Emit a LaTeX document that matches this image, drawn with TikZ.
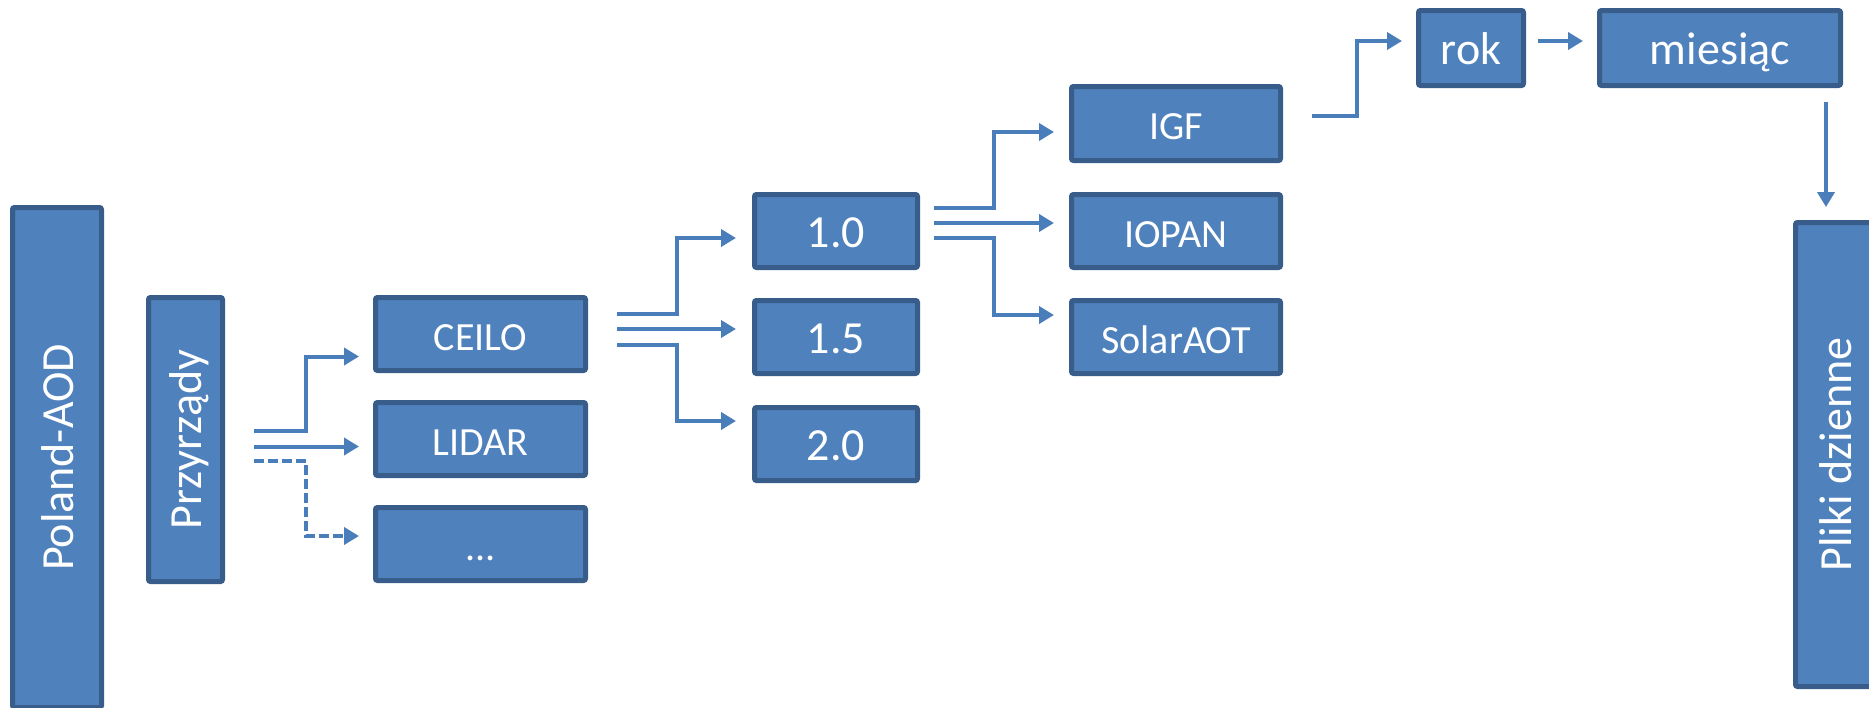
\documentclass[tikz,border=0pt]{standalone}
\usepackage{fontspec}
\setmainfont{Carlito}
\usetikzlibrary{arrows.meta,calc}
\definecolor{boxfill}{HTML}{4F81BD}
\definecolor{boxline}{HTML}{385D8A}
\definecolor{arrcol}{HTML}{4A7EBB}
\tikzset{
  box/.style={draw=boxline, fill=boxfill, line width=5pt, rounded corners=2pt,
    text=white, inner sep=0pt, text height=32pt, text depth=0pt},
  smallfont/.style={font=\fontsize{40}{48}\selectfont},
  bigfont/.style={font=\fontsize{46}{55}\selectfont},
  arr/.style={draw=arrcol, line width=4pt, -{Triangle[length=15pt,width=17pt]}},
  dashline/.style={dash pattern=on 10pt off 4pt}
}
\begin{document}
\begin{tikzpicture}[x=1pt,y=-1pt]
\useasboundingbox (0,0) rectangle (1869,707);
% nodes
\node[box,bigfont,rotate=90,minimum width=500pt,minimum height=89pt] (poland) at (57,457.5) {Poland-AOD};
\node[box,bigfont,rotate=90,minimum width=284pt,minimum height=74pt] (przyrzady) at (185.5,439.5) {Przyrządy};
\node[box,smallfont,minimum width=210pt,minimum height=73pt] (ceilo) at (480.5,334) {CEILO};
\node[box,smallfont,minimum width=210pt,minimum height=73pt] (lidar) at (480.5,439) {LIDAR};
\node[box,smallfont,minimum width=210pt,minimum height=73pt] (dots) at (480.5,544) {...};
\node[box,bigfont,minimum width=163pt,minimum height=73pt] (v10) at (836,231) {1.0};
\node[box,bigfont,minimum width=163pt,minimum height=73pt] (v15) at (836,337) {1.5};
\node[box,bigfont,minimum width=163pt,minimum height=73pt] (v20) at (836,444) {2.0};
\node[box,smallfont,minimum width=209pt,minimum height=74pt] (igf) at (1176,123.5) {IGF};
\node[box,smallfont,minimum width=209pt,minimum height=73pt] (iopan) at (1176,231) {IOPAN};
\node[box,smallfont,minimum width=209pt,minimum height=73pt] (solar) at (1176,337) {SolarAOT};
\node[box,bigfont,minimum width=105pt,minimum height=75pt] (rok) at (1471,48) {rok};
\node[box,bigfont,minimum width=241pt,minimum height=75pt] (miesiac) at (1720,48) {miesiąc};
\node[box,bigfont,rotate=90,minimum width=464pt,minimum height=79pt] (pliki) at (1835,454.5) {Pliki dzienne};
% free ends of connectors
\coordinate (a1) at (254,431);
\coordinate (a2) at (254,446.5);
\coordinate (a3) at (254,461);
\coordinate (b1) at (617,314);
\coordinate (b2) at (617,329);
\coordinate (b3) at (617,345);
\coordinate (c1) at (934,207.5);
\coordinate (c2) at (934,223);
\coordinate (c3) at (934,238);
\coordinate (d1) at (1312,116);
% group A
\draw[arr] (a1) -| ($(ceilo.west)+(-67,22.5)$) -- ($(ceilo.west)+(-14,22.5)$);
\draw[arr] (a2) -- ($(lidar.west)+(-14,7.5)$);
\draw[arr,dashline] (a3) -| ($(dots.west)+(-67,-8)$) -- ($(dots.west)+(-14,-8)$);
% group B
\draw[arr] (b1) -| ($(v10.west)+(-75,7)$) -- ($(v10.west)+(-16,7)$);
\draw[arr] (b2) -- ($(v15.west)+(-16,-8)$);
\draw[arr] (b3) -| ($(v20.west)+(-75,-23)$) -- ($(v20.west)+(-16,-23)$);
% group C
\draw[arr] (c1) -| ($(igf.west)+(-75,8.5)$) -- ($(igf.west)+(-15,8.5)$);
\draw[arr] (c2) -- ($(iopan.west)+(-15,-8)$);
\draw[arr] (c3) -| ($(solar.west)+(-75,-22)$) -- ($(solar.west)+(-15,-22)$);
% group D
\draw[arr] (d1) -| ($(rok.west)+(-59,-7)$) -- ($(rok.west)+(-14,-7)$);
\draw[arr] ($(rok.east)+(12,-7)$) -- ($(miesiac.west)+(-14,-7)$);
\draw[arr] ($(miesiac.south east)+(-17,14)$) -- ($(pliki.east)+(-9,-13)$);
\end{tikzpicture}
\end{document}
